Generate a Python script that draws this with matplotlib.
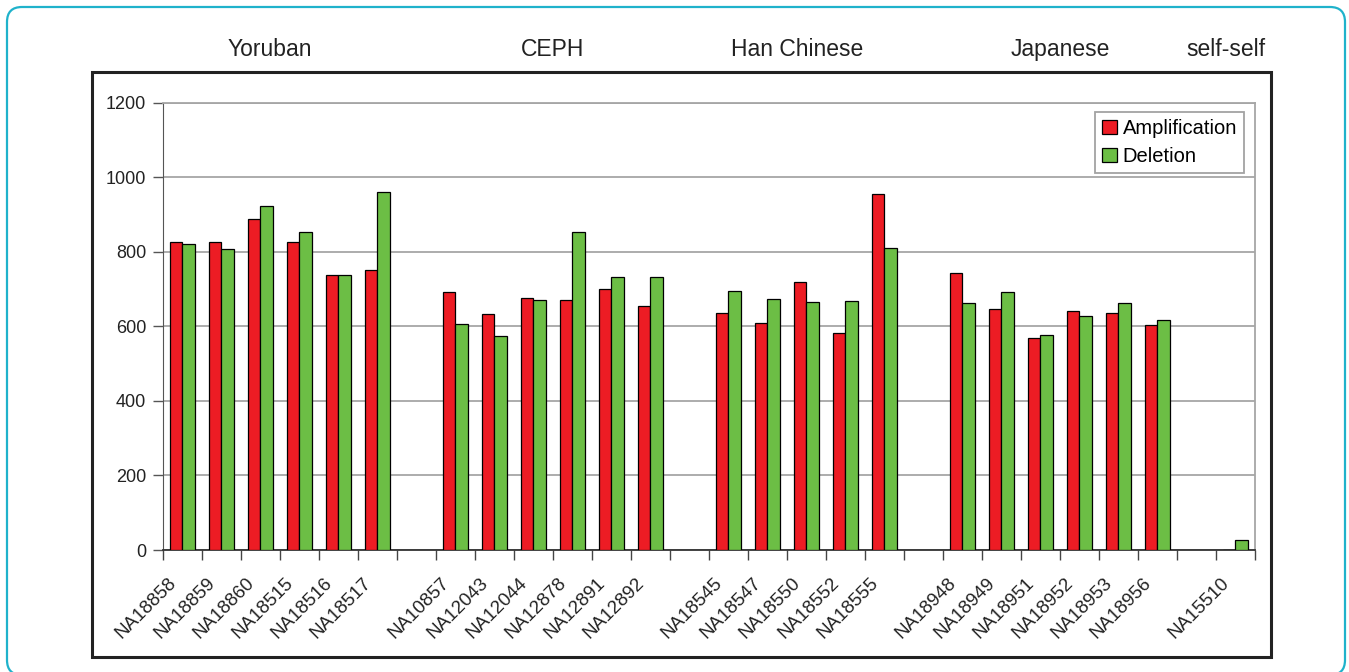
import matplotlib
matplotlib.use("Agg")
from matplotlib import pyplot as plt
from matplotlib.patches import FancyBboxPatch, Rectangle
from matplotlib.transforms import ScaledTranslation
import numpy as np

plt.rcParams['font.family'] = ['Liberation Sans', 'DejaVu Sans']

# samples and counts per population
yoruban = ["NA18858", "NA18859", "NA18860", "NA18515", "NA18516", "NA18517"]
yoruban_amp = [826, 826, 887, 826, 737, 750]
yoruban_del = [820, 808, 924, 853, 737, 960]

ceph = ["NA10857", "NA12043", "NA12044", "NA12878", "NA12891", "NA12892"]
ceph_amp = [692, 633, 676, 672, 699, 655]
ceph_del = [606, 575, 672, 853, 733, 733]

han = ["NA18545", "NA18547", "NA18550", "NA18552", "NA18555"]
han_amp = [636, 608, 720, 582, 954]
han_del = [695, 673, 666, 668, 810]

japanese = ["NA18948", "NA18949", "NA18951", "NA18952", "NA18953", "NA18956"]
japanese_amp = [742, 646, 570, 641, 636, 603]
japanese_del = [662, 693, 576, 628, 662, 618]

selfself = ["NA15510"]
selfself_amp = [0]
selfself_del = [28]

group_names = ["Yoruban", "CEPH", "Han Chinese", "Japanese", "self-self"]
groups = [
    (yoruban, yoruban_amp, yoruban_del),
    (ceph, ceph_amp, ceph_del),
    (han, han_amp, han_del),
    (japanese, japanese_amp, japanese_del),
    (selfself, selfself_amp, selfself_del),
]

# lay the groups out with one empty slot between them
pos, labels, amp, dele, centers = [], [], [], [], []
slot = 0
for names, a, d in groups:
    gpos = list(range(slot, slot + len(names)))
    pos += gpos
    labels += names
    amp += a
    dele += d
    centers.append(np.mean(gpos))
    slot += len(names) + 1
pos = np.array(pos)
last = pos[-1]

red = "#ED1C24"
green = "#6CBE45"

fig = plt.figure(figsize=(13.49, 6.72), dpi=100)

# outer rounded border and inner frame
fig.patches.append(FancyBboxPatch((0.07, -0.03), 13.38, 6.68,
                                  boxstyle="round,pad=0,rounding_size=0.15",
                                  transform=fig.dpi_scale_trans, fill=False,
                                  edgecolor="#1FB2CB", linewidth=1.6))
fig.patches.append(Rectangle((0.92, 0.15), 11.79, 5.85,
                             transform=fig.dpi_scale_trans, fill=False,
                             edgecolor="#222222", linewidth=2.2))

ax = fig.add_axes([0.1208, 0.1815, 0.8095, 0.6656])

w = 0.31
ax.bar(pos - w / 2, amp, width=w, color=red, edgecolor="black",
       linewidth=0.9, label="Amplification", zorder=3)
ax.bar(pos + w / 2, dele, width=w, color=green, edgecolor="black",
       linewidth=0.9, label="Deletion", zorder=3)

ax.set_xlim(-0.5, last + 0.5)
ax.set_ylim(0, 1200)
ax.set_yticks(np.arange(0, 1201, 200))
ax.yaxis.grid(True, color="#A6A6A6", linewidth=1.3)
ax.set_axisbelow(True)

ax.tick_params(axis="y", direction="out", length=7, width=1, color="#555555",
               labelsize=13, pad=5, labelcolor="#222222")

# boundary ticks, labels at slot centres
ax.set_xticks(np.arange(-0.5, last + 0.51, 1))
ax.set_xticklabels([])
ax.tick_params(axis="x", which="major", direction="out", length=7, width=1,
               color="#444444")
ax.set_xticks(pos, minor=True)
ax.set_xticklabels(labels, minor=True, rotation=45, ha="right", va="center",
                   rotation_mode="anchor", fontsize=13.5, color="#222222")
ax.tick_params(axis="x", which="minor", length=0, pad=22)
shift = ScaledTranslation(-0.09, 0, fig.dpi_scale_trans)
for t in ax.get_xticklabels(minor=True):
    t.set_transform(t.get_transform() + shift)

for side in ["top", "right"]:
    ax.spines[side].set_color("#A6A6A6")
    ax.spines[side].set_linewidth(1.3)
ax.spines["left"].set_color("#555555")
ax.spines["bottom"].set_color("#333333")
ax.spines["bottom"].set_linewidth(1.3)

# population titles above the frame
title_x = [centers[0] - 0.25, centers[1], centers[2] - 0.25, centers[3], centers[4] - 0.25]
for name, x in zip(group_names, title_x):
    ax.text(x, 1.12, name, transform=ax.get_xaxis_transform(), ha="center",
            va="center", fontsize=16.5, color="#222222")

leg = ax.legend(loc="upper right", bbox_to_anchor=(0.99, 0.979),
                borderaxespad=0, fancybox=False, edgecolor="#8C8C8C",
                fontsize=14.5, handlelength=0.7, handleheight=0.7,
                handletextpad=0.3, labelspacing=0.45, borderpad=0.35)
leg.get_frame().set_linewidth(1.3)

fig.savefig("out.png", dpi=100)
